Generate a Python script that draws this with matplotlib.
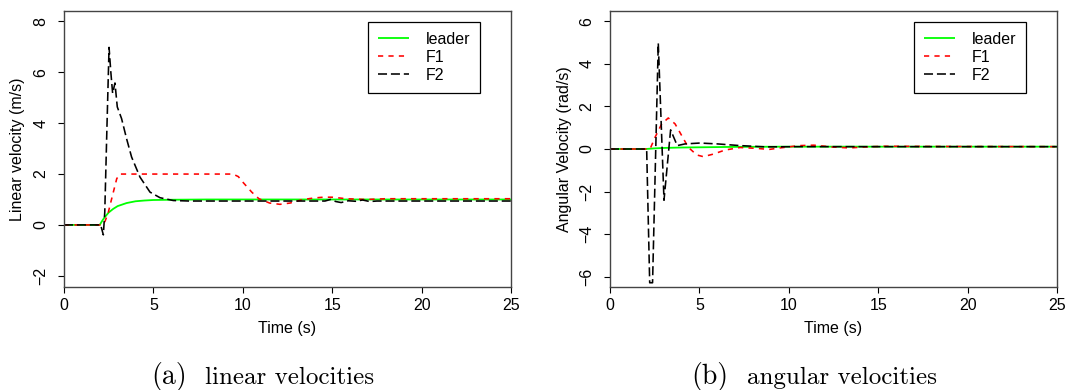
import matplotlib
matplotlib.use("Agg")
import matplotlib.pyplot as plt

plt.rcParams['font.family'] = ['Liberation Sans', 'DejaVu Sans']
plt.rcParams['lines.scale_dashes'] = False

# ---------------- data: linear velocities (panel a) ----------------
lin_leader_t = [0, 2.0, 2.1, 2.25, 2.5, 2.75, 3.0, 3.5, 4.0, 4.5, 5.0, 6.0, 8.0, 25]
lin_leader_v = [0, 0, 0.12, 0.28, 0.49, 0.63, 0.74, 0.86, 0.93, 0.96, 0.98, 0.99, 1.0, 1.0]

lin_f1_t = [0, 2.15, 2.3, 2.48, 2.62, 2.76, 2.95, 3.13, 9.45, 9.75, 10.03, 10.5, 10.9,
            11.5, 12.08, 12.64, 13.37, 14.0, 14.5, 15.0, 15.8, 16.9, 18.0, 25]
lin_f1_v = [0, 0, 0.15, 0.5, 0.9, 1.29, 1.82, 2.0, 2.0, 1.9, 1.66, 1.29, 1.03,
            0.86, 0.81, 0.86, 1.0, 1.06, 1.09, 1.09, 1.03, 1.0, 1.03, 1.03]

lin_f2_t = [0, 2.05, 2.2, 2.28, 2.4, 2.52, 2.62, 2.72, 2.85, 2.98, 3.22, 3.5, 3.78,
            4.25, 4.81, 5.37, 6.11, 7.0, 14.6, 14.9, 15.2, 15.5, 15.9, 16.3, 16.7,
            17.1, 17.5, 25]
lin_f2_v = [0, 0, -0.39, 0.5, 3.8, 6.98, 6.0, 5.17, 5.58, 4.64, 4.18, 3.39, 2.67,
            1.88, 1.29, 1.07, 0.96, 0.94, 0.94, 1.0, 0.92, 0.88, 0.95, 0.93, 0.98,
            0.92, 0.94, 0.94]

# ---------------- data: angular velocities (panel b) ----------------
ang_leader_t = [0, 2.0, 2.5, 3.0, 4.0, 5.0, 7.0, 10.0, 25]
ang_leader_v = [0, 0, 0.03, 0.05, 0.07, 0.08, 0.1, 0.11, 0.11]

ang_f1_t = [0, 2.24, 2.52, 2.89, 3.26, 3.64, 4.01, 4.38, 4.85, 5.22, 5.78, 6.43, 7.27,
            8.2, 8.9, 9.5, 10.6, 11.4, 12.5, 13.4, 14.3, 15.4, 18, 25]
ang_f1_v = [0, 0, 0.55, 1.18, 1.46, 1.18, 0.63, 0.08, -0.28, -0.36, -0.24, -0.05, 0.07,
            0.03, -0.02, 0.05, 0.16, 0.18, 0.09, 0.05, 0.1, 0.13, 0.12, 0.11]

ang_f2_t = [0, 2.05, 2.22, 2.38, 2.7, 3.02, 3.39, 3.76, 4.2, 5.03, 6.0, 7.27, 8.7, 10.6, 25]
ang_f2_v = [0, 0, -6.29, -6.29, 4.98, -2.41, 0.9, 0.16, 0.24, 0.28, 0.24, 0.16, 0.1, 0.11, 0.11]

series_labels = ["leader", "F1", "F2"]
x_ticks = [0, 5, 10, 15, 20, 25]
lin_y_ticks = [-2, 0, 2, 4, 6, 8]
ang_y_ticks = [-6, -4, -2, 0, 2, 4, 6]

FS = 11.5
W, H = 1070, 390
fig = plt.figure(figsize=(W / 100, H / 100), dpi=100)
ax1 = fig.add_axes([64 / W, 1 - 287 / H, 447 / W, 276 / H])
ax2 = fig.add_axes([610 / W, 1 - 287 / H, 447 / W, 276 / H])

styles = [
    dict(color='#00ff00', lw=1.3, solid_capstyle='butt'),
    dict(color='#ff0000', lw=1.15, dashes=(3.75, 3.75)),
    dict(color='black', lw=1.15, dashes=(6.5, 2.8)),
]

def draw(ax, data, yticks, ylim, ylabel):
    for (t, v), lab, st in zip(data, series_labels, styles):
        ax.plot(t, v, label=lab, **st)
    ax.set_xlim(0, 25)
    ax.set_ylim(*ylim)
    ax.set_xticks(x_ticks)
    ax.set_yticks(yticks)
    for s in ax.spines.values():
        s.set_color('#444444')
        s.set_linewidth(1.0)
    ax.tick_params(axis='both', length=4.3, width=0.8, color='black',
                   labelsize=FS, labelcolor='black')
    ax.tick_params(axis='x', pad=3.5)
    ax.tick_params(axis='y', pad=7.0, labelrotation=90)
    for lab in ax.get_yticklabels():
        lab.set_va('center')
        lab.set_ha('right')
    ax.set_xlabel("Time (s)", fontsize=FS, va='center')
    ax.xaxis.set_label_coords(0.5, (287 - 328) / 276)
    ax.set_ylabel(ylabel, fontsize=FS, va='center')
    leg = ax.legend(loc='upper left', bbox_to_anchor=(0.680, 0.960), borderaxespad=0,
                    fontsize=FS, fancybox=False, framealpha=1, edgecolor='black',
                    handlelength=2.0, handletextpad=1.0, labelspacing=0.2,
                    borderpad=0.6)
    leg.get_frame().set_linewidth(0.9)

draw(ax1, [(lin_leader_t, lin_leader_v), (lin_f1_t, lin_f1_v), (lin_f2_t, lin_f2_v)],
     lin_y_ticks, (-2.44, 8.41), "Linear velocity (m/s)")
ax1.yaxis.set_label_coords((18 - 64) / 447, 0.5)

draw(ax2, [(ang_leader_t, ang_leader_v), (ang_f1_t, ang_f1_v), (ang_f2_t, ang_f2_v)],
     ang_y_ticks, (-6.49, 6.49), "Angular Velocity (rad/s)")
ax2.yaxis.set_label_coords((565 - 610) / 447, 0.5)

cap_y = 1 - 383.7 / H
fig.text(151.5 / W, cap_y, "(a)", family='cmr10', fontsize=20, ha='left', va='baseline')
fig.text(205 / W, cap_y, "linear velocities", family='cmr10', fontsize=18, ha='left', va='baseline')
fig.text(691.5 / W, cap_y, "(b)", family='cmr10', fontsize=20, ha='left', va='baseline')
fig.text(746.7 / W, cap_y, "angular velocities", family='cmr10', fontsize=18, ha='left', va='baseline')

fig.savefig("out.png", dpi=100)
